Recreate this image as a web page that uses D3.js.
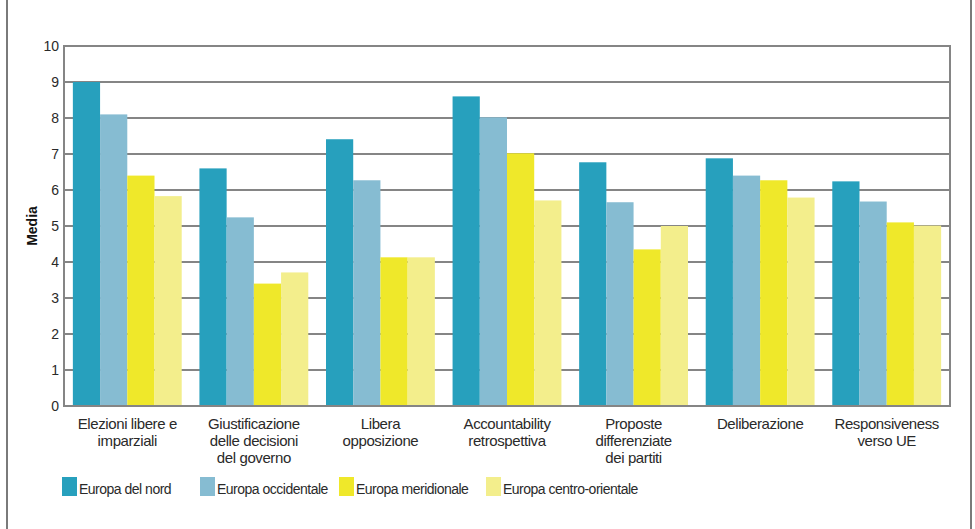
<!DOCTYPE html>
<html>
<head>
<meta charset="utf-8">
<script src="https://cdn.jsdelivr.net/npm/d3@7"></script>
<style>
  html, body { margin: 0; padding: 0; background: #fff; }
  svg { display: block; font-family: "Liberation Sans", Arial, Helvetica, sans-serif; }
</style>
</head>
<body>
<svg id="chart" width="975" height="529"></svg>
<script>
// Quality-of-democracy dimensions, mean score by European region
const categories = [
  ["Elezioni libere e", "imparziali"],
  ["Giustificazione", "delle decisioni", "del governo"],
  ["Libera", "opposizione"],
  ["Accountability", "retrospettiva"],
  ["Proposte", "differenziate", "dei partiti"],
  ["Deliberazione"],
  ["Responsiveness", "verso UE"]
];
const seriesNames = ["Europa del nord", "Europa occidentale", "Europa meridionale", "Europa centro-orientale"];
const seriesColors = ["#27a0bd", "#86bcd2", "#efe82a", "#f3ee8c"];
const nord        = [9.0, 6.6, 7.41, 8.6, 6.77, 6.88, 6.24];
const occidentale = [8.1, 5.24, 6.27, 8.02, 5.66, 6.4, 5.68];
const meridionale = [6.4, 3.4, 4.13, 7.02, 4.35, 6.27, 5.1];
const centroOr    = [5.83, 3.71, 4.13, 5.71, 5.0, 5.79, 5.01];
const yTicks = [0, 1, 2, 3, 4, 5, 6, 7, 8, 9, 10];
const yTitle = "Media";

const values = [nord, occidentale, meridionale, centroOr];
const svg = d3.select("#chart");
const gridColor = "#858585";
const textColor = "#2a2a2a";

const plotL = 64, plotR = 950, plotT = 46, plotB = 406;

// outer frame lines
svg.append("line").attr("x1", 7).attr("x2", 7).attr("y1", 0).attr("y2", 529)
  .attr("stroke", "#7a7a7a").attr("stroke-width", 2);
svg.append("line").attr("x1", 971).attr("x2", 971).attr("y1", 0).attr("y2", 529)
  .attr("stroke", "#7a7a7a").attr("stroke-width", 2);

const y = d3.scaleLinear().domain([0, 10]).range([plotB, plotT]);
const x0 = d3.scaleBand().domain(d3.range(categories.length))
  .range([plotL, plotR]).paddingInner(0.14).paddingOuter(0.07);
const x1 = d3.scaleBand().domain(d3.range(seriesNames.length))
  .range([0, x0.bandwidth()]).padding(0);

// horizontal grid
svg.append("g").selectAll("line").data(yTicks).join("line")
  .attr("x1", plotL).attr("x2", plotR)
  .attr("y1", d => y(d)).attr("y2", d => y(d))
  .attr("stroke", gridColor).attr("stroke-width", 2);

// bars
const groups = svg.append("g").selectAll("g").data(categories).join("g")
  .attr("transform", (d, i) => `translate(${x0(i)},0)`);
groups.selectAll("rect")
  .data((d, i) => values.map((s, k) => ({ k, v: s[i] })))
  .join("rect")
  .attr("x", d => x1(d.k))
  .attr("width", x1.bandwidth())
  .attr("y", d => y(d.v))
  .attr("height", d => y(0) - y(d.v))
  .attr("fill", d => seriesColors[d.k]);

// plot frame: left axis, right edge, baseline
svg.append("line").attr("x1", plotL).attr("x2", plotL).attr("y1", plotT - 1).attr("y2", plotB + 1)
  .attr("stroke", gridColor).attr("stroke-width", 2);
svg.append("line").attr("x1", plotR).attr("x2", plotR).attr("y1", plotT - 1).attr("y2", plotB + 1)
  .attr("stroke", gridColor).attr("stroke-width", 2);
svg.append("line").attr("x1", plotL).attr("x2", plotR).attr("y1", y(0)).attr("y2", y(0))
  .attr("stroke", gridColor).attr("stroke-width", 2);

// y axis labels
const yAxis = d3.axisLeft(y).tickValues(yTicks).tickSize(0).tickPadding(5);
const ya = svg.append("g").attr("transform", `translate(${plotL},0)`).call(yAxis);
ya.select(".domain").remove();
ya.selectAll("text").attr("font-size", 14).attr("fill", textColor)
  .attr("font-family", "'Liberation Sans', Arial, sans-serif");

svg.append("text")
  .attr("transform", `translate(37,${(plotT + plotB) / 2}) rotate(-90)`)
  .attr("text-anchor", "middle")
  .attr("font-size", 14).attr("font-weight", "bold").attr("fill", "#111")
  .text(yTitle);

// category labels
const lab = svg.append("g").selectAll("text").data(categories).join("text")
  .attr("text-anchor", "middle")
  .attr("font-size", 15).attr("letter-spacing", -0.4).attr("fill", textColor)
  .attr("transform", (d, i) => `translate(${x0(i) + x0.bandwidth() / 2},429)`);
lab.selectAll("tspan").data(d => d).join("tspan")
  .attr("x", 0).attr("dy", (d, j) => j === 0 ? 0 : 17)
  .text(d => d);

// legend
const legendX = [62, 200, 339, 486];
const lg = svg.append("g").selectAll("g").data(seriesNames).join("g")
  .attr("transform", (d, i) => `translate(${legendX[i]},477)`);
lg.append("rect").attr("width", 15).attr("height", 19)
  .attr("fill", (d, i) => seriesColors[i]);
lg.append("text").attr("x", 17).attr("y", 17)
  .attr("font-size", 14).attr("letter-spacing", -0.5).attr("fill", textColor)
  .text(d => d);
</script>
</body>
</html>
